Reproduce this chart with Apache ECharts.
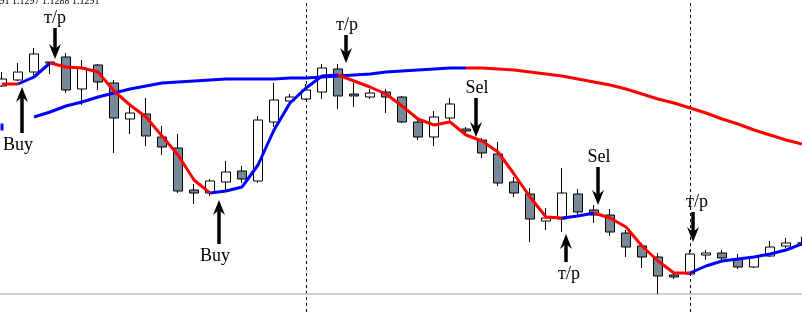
<!DOCTYPE html>
<html><head><meta charset="utf-8">
<style>html,body{margin:0;padding:0;background:#fff}#c{width:802px;height:312px}</style>
<script src="https://cdn.jsdelivr.net/npm/echarts@6/dist/echarts.min.js"></script>
</head><body><div id="c"></div>
<script>
// ---- data (prices) ----
const bars = Array.from({length: 51}, (_, i) => i);   // bar numbers on the time axis
const opens = [1.1448,1.1454,1.1462,1.1471,1.1477,1.1445,1.1469,1.1451,1.1415,1.1420,
  1.1397,1.1386,1.1344,1.1341,1.1352,1.1363,1.1353,1.1412,1.1433,1.1435,
  1.1442,1.1465,1.1440,1.1437,1.1442,1.1437,1.1412,1.1397,1.1416,1.1405,
  1.1394,1.1380,1.1352,1.1340,1.1313,1.1315,1.1340,1.1324,1.1319,1.1301,
  1.1288,1.1277,1.1259,1.1260,1.1279,1.1281,1.1275,1.1267,1.1278,1.1288,1.1291];
const closes = [1.1455,1.1462,1.1480,1.1472,1.1444,1.1466,1.1452,1.1416,1.1421,1.1398,
  1.1387,1.1343,1.1341,1.1353,1.1362,1.1355,1.1414,1.1434,1.1437,1.1444,
  1.1466,1.1438,1.1438,1.1441,1.1437,1.1412,1.1397,1.1417,1.1430,1.1403,
  1.1381,1.1351,1.1341,1.1315,1.1316,1.1341,1.1322,1.1319,1.1302,1.1287,
  1.1277,1.1258,1.1257,1.1280,1.1281,1.1276,1.1267,1.1277,1.1287,1.1291,1.1291];
const lows = [1.1447,1.1453,1.1459,1.1460,1.1441,1.1429,1.1444,1.1381,1.1400,1.1388,
  1.1379,1.1341,1.1330,1.1338,1.1344,1.1351,1.1351,1.1407,1.1429,1.1434,
  1.1435,1.1425,1.1427,1.1435,1.1421,1.1411,1.1394,1.1388,1.1412,1.1401,
  1.1376,1.1348,1.1337,1.1292,1.1304,1.1302,1.1319,1.1311,1.1298,1.1277,
  1.1266,1.1240,1.1255,1.1259,1.1274,1.1273,1.1265,1.1266,1.1277,1.1286,1.1288];
const highs = [1.1462,1.1471,1.1486,1.1472,1.1481,1.1474,1.1470,1.1454,1.1430,1.1436,
  1.1408,1.1400,1.1350,1.1355,1.1373,1.1368,1.1418,1.1451,1.1440,1.1450,
  1.1470,1.1470,1.1451,1.1445,1.1445,1.1438,1.1414,1.1423,1.1436,1.1407,
  1.1396,1.1392,1.1357,1.1346,1.1326,1.1366,1.1345,1.1329,1.1325,1.1304,
  1.1291,1.1281,1.1261,1.1284,1.1284,1.1284,1.1280,1.1278,1.1293,1.1296,1.1297];

const fastMA = [1.1450,1.1450,1.1457,1.1471,1.1467,1.1466,1.1462,1.1443,1.1429,1.1417,
  1.1398,1.1379,1.1354,1.1341,1.1343,1.1347,1.1369,1.1404,1.1431,1.1446,
  1.1458,1.1459,1.1453,1.1447,1.1440,1.1428,1.1415,1.1409,1.1412,1.1399,
  1.1393,1.1382,1.1360,1.1337,1.1317,1.1316,1.1318,1.1321,1.1316,1.1307,
  1.1288,1.1273,1.1261,1.1261,1.1268,1.1273,1.1275,1.1277,1.1280,1.1284,1.1290];
const fastTrend = [[0,'down'],[1,'up'],[3,'down'],[13,'up'],[21,'down'],[35,'up'],[37,'down'],[43,'up']];

const slowMA = [1.1407,null,1.1417,1.1422,1.1428,1.1432,1.1437,1.1441,1.1445,1.1448,
  1.1451,1.1452,1.1453,1.1454,1.1455,1.1455,1.1455,1.1455,1.1456,1.1456,
  1.1457,1.1458,1.1459,1.1460,1.1462,1.1463,1.1464,1.1465,1.1466,1.1466,
  1.1466,1.1465,1.1464,1.1462,1.1460,1.1458,1.1455,1.1452,1.1449,1.1445,
  1.1440,1.1435,1.1431,1.1426,1.1421,1.1415,1.1410,1.1404,1.1399,1.1394,1.1390];
const slowTrend = [[0,'up'],[29,'down']];

const separators = [19, 43];
const windowFloor = 1.1240;

const annoBar   = [3, 1, 21, 13, 29, 37, 35, 43];
const annoLabel = ['т/р','Buy','т/р','Buy','Sel','Sel','т/р','т/р'];
const annoTip   = [1.1475,1.1447,1.1471,1.1334,1.1397,1.1329,1.1300,1.1292];
const annoTail  = [1.1506,1.1401,1.1499,1.1290,1.1436,1.1367,1.1272,1.1322];

// ---- styling helpers ----
const annoShift = [5, 4, 8, 9, 10, 4, 4, 3];
const annoTextShift = [0, -4, 1, -4, 1, 1, 3, 4];

function trendAt(starts, i) { let t = null; for (const [k, v] of starts) if (i >= k) t = v; return t; }
function split(values, starts, want) {
  return values.map((v, i) => {
    const a = i > 0 ? trendAt(starts, i - 1) : null;
    const b = i < values.length - 1 ? trendAt(starts, i) : null;
    return [bars[i], (a === want || b === want) ? v : null];
  });
}
const candles = opens.map((o, i) => [bars[i], o, closes[i], lows[i], highs[i]]);
const slowUp = split(slowMA, slowTrend, 'up').map((p, i) =>
  (i === 0 && p[1] != null) ? {value: p, symbol: 'rect', symbolSize: [3, 7]} : p);
const slowDown = split(slowMA, slowTrend, 'down');
const fastUp = split(fastMA, fastTrend, 'up');
const fastDown = split(fastMA, fastTrend, 'down');
const annoData = annoBar.map((b, i) => [bars[b], annoTip[i], annoTail[i]]);

const BLUE = '#0000ff', RED = '#ff0000';
function lineSeries(data, color, z) {
  return {type: 'line', data, symbol: 'none', showSymbol: true, showAllSymbol: true,
    itemStyle: {color}, lineStyle: {color, width: 3}, connectNulls: false,
    silent: true, z, emphasis: {disabled: true}};
}

const last = opens.length - 1;
const f4 = v => v.toFixed(4);
const header = [f4(opens[last]), f4(highs[last]), f4(lows[last]), f4(closes[last])].join(' ');

const chart = echarts.init(document.getElementById('c'));
chart.setOption({
  animation: false,
  grid: {left: 0, right: 0, top: 0, bottom: 0},
  xAxis: {type: 'value', min: -0.125, max: 50, show: false},
  yAxis: {type: 'value', min: 1.1222, max: 1.1534, show: false},
  series: [
    {type: 'custom', data: [[bars[0], windowFloor]], silent: true, z: 1, clip: false,
      renderItem(params, api) {
        const y = api.coord([api.value(0), api.value(1)])[1];
        const cs = params.coordSys;
        return {type: 'line', shape: {x1: cs.x, y1: y, x2: cs.x + cs.width, y2: y},
          style: {stroke: '#c0c0c0', lineWidth: 1.5}};
      }},
    {type: 'candlestick', data: candles, encode: {x: 0, y: [1, 2, 3, 4]}, barWidth: 10, silent: true, z: 2,
      itemStyle: {color: '#ffffff', color0: '#778899', borderColor: '#000', borderColor0: '#000', borderWidth: 1},
      markLine: {silent: true, symbol: ['none', 'none'], label: {show: false}, z: 1,
        data: separators.map(i => ({xAxis: bars[i]})),
        lineStyle: {type: [3, 3], color: '#000', width: 1}}},
    lineSeries(slowUp, BLUE, 3),
    lineSeries(slowDown, RED, 3),
    lineSeries(fastUp, BLUE, 4),
    lineSeries(fastDown, RED, 4),
    {type: 'custom', data: annoData, silent: true, z: 6, clip: false,
      renderItem(params, api) {
        const i = params.dataIndex;
        const tip = api.coord([api.value(0), api.value(1)]);
        const tail = api.coord([api.value(0), api.value(2)]);
        const x = tip[0] + annoShift[i];
        const s = tail[1] < tip[1] ? 1 : -1;
        const hl = 15, hw = 6, notch = 5;
        return {type: 'group', children: [
          {type: 'line', shape: {x1: x, y1: tail[1], x2: x, y2: tip[1] - s * (hl - notch)},
            style: {stroke: '#000', lineWidth: 3.5}},
          {type: 'polygon', shape: {points: [[x, tip[1]], [x - hw, tip[1] - s * hl], [x, tip[1] - s * (hl - notch)], [x + hw, tip[1] - s * hl]]},
            style: {fill: '#000'}},
          {type: 'text', x: x + annoTextShift[i], y: tail[1] - s * 11 + 1,
            style: {text: annoLabel[i], fill: '#000', font: '18px "Liberation Serif"', align: 'center', verticalAlign: 'middle'}}
        ]};
      }}
  ],
  graphic: [{type: 'text', x: -18, y: 1.5, silent: true,
    style: {text: header, fill: '#000', font: '10px "Liberation Serif"', verticalAlign: 'middle'}}]
});
</script></body></html>
